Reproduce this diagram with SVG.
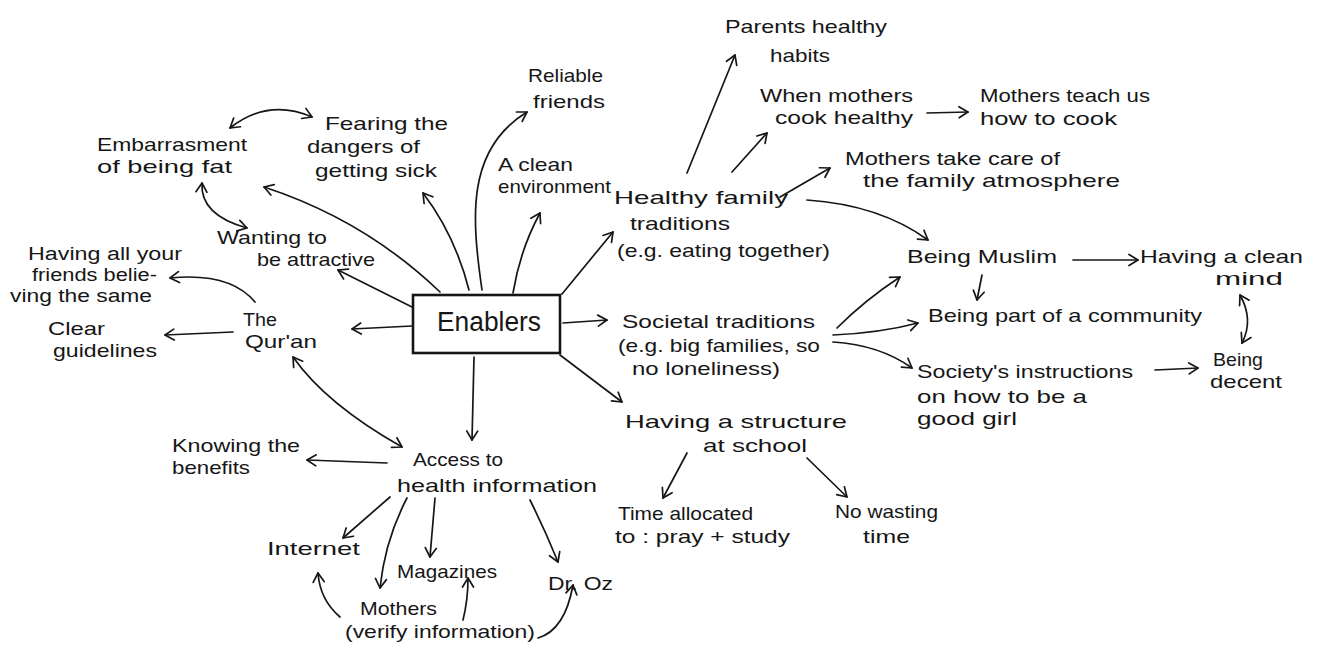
<svg xmlns="http://www.w3.org/2000/svg" width="1319" height="655" viewBox="0 0 1319 655">
<style>
text{font-family:"Liberation Sans",Arial,sans-serif;font-size:19px;fill:#161616;}
.big{font-size:27px;}
.sm{font-size:18px;}
.c path{fill:none;stroke:#161616;stroke-width:1.7;stroke-linecap:round;marker-end:url(#ah);}
.c path.both{marker-start:url(#ah);}
.box{fill:#fff;stroke:#161616;stroke-width:2.6;}
</style>
<defs>
<marker id="ah" markerUnits="userSpaceOnUse" markerWidth="14" markerHeight="14" refX="11" refY="7" orient="auto-start-reverse">
<path d="M2,1.5 L11,7 L2,12.5" fill="none" stroke="#161616" stroke-width="1.7" stroke-linecap="round" stroke-linejoin="round"/>
</marker>
</defs>
<rect width="1319" height="655" fill="#fff"/>
<g id="connectors" class="c">
<path d="M440,292 Q365,220 264,187"/>
<path d="M469,290 Q455,235 423,193"/>
<path d="M482,290 C472,220 465,150 527,112"/>
<path d="M513,293 Q520,250 540,213"/>
<path d="M562,294 L613,232"/>
<path d="M412,326 L352,329"/>
<path d="M412,307 L338,270"/>
<path d="M474,357 L472,440"/>
<path d="M560,355 L622,402"/>
<path d="M563,323 L607,320"/>
<path class="both" d="M293,357 Q326,404 402,447"/>
<path d="M255,302 Q230,272 170,278"/>
<path d="M233,332 L165,335"/>
<path class="both" d="M230,128 Q268,98 312,117"/>
<path class="both" d="M202,183 Q200,215 247,228"/>
<path d="M387,463 L307,460"/>
<path d="M390,497 L343,538"/>
<path d="M407,498 Q385,540 380,588"/>
<path d="M435,498 L430,557"/>
<path d="M530,500 Q545,530 558,562"/>
<path d="M340,617 Q320,600 318,573"/>
<path d="M463,620 Q468,600 468,578"/>
<path d="M538,638 Q565,630 573,585"/>
<path d="M687,173 L735,55"/>
<path d="M732,172 L767,133"/>
<path d="M927,113 L968,112"/>
<path d="M780,197 L830,168"/>
<path d="M807,200 Q880,205 928,240"/>
<path d="M837,328 Q865,300 900,277"/>
<path d="M833,335 Q880,333 918,323"/>
<path d="M833,342 Q880,345 912,368"/>
<path d="M1073,260 L1138,260"/>
<path d="M982,275 L977,300"/>
<path class="both" d="M1240,295 Q1254,320 1242,343"/>
<path d="M1155,370 L1198,368"/>
<path d="M687,453 L663,498"/>
<path d="M807,458 L847,497"/>
</g>
<g id="enablers"><rect class="box" x="413" y="295" width="147" height="58"/><text class="big" x="437" y="331" textLength="104" lengthAdjust="spacingAndGlyphs">Enablers</text></g>
<g id="reliable-friends"><text x="528" y="82" textLength="75" lengthAdjust="spacingAndGlyphs">Reliable</text><text x="533" y="108" textLength="72" lengthAdjust="spacingAndGlyphs">friends</text></g>
<g id="parents-habits"><text x="725" y="33" textLength="162" lengthAdjust="spacingAndGlyphs">Parents healthy</text><text x="770" y="62" textLength="60" lengthAdjust="spacingAndGlyphs">habits</text></g>
<g id="when-mothers"><text x="760" y="102" textLength="153" lengthAdjust="spacingAndGlyphs">When mothers</text><text x="775" y="124" textLength="138" lengthAdjust="spacingAndGlyphs">cook healthy</text></g>
<g id="mothers-teach"><text x="980" y="102" textLength="170" lengthAdjust="spacingAndGlyphs">Mothers teach us</text><text x="980" y="125" textLength="137" lengthAdjust="spacingAndGlyphs">how to cook</text></g>
<g id="mothers-care"><text x="845" y="165" textLength="215" lengthAdjust="spacingAndGlyphs">Mothers take care of</text><text x="863" y="187" textLength="257" lengthAdjust="spacingAndGlyphs">the family atmosphere</text></g>
<g id="healthy-family"><text x="614" y="204" textLength="174" lengthAdjust="spacingAndGlyphs">Healthy family</text><text x="630" y="230" textLength="100" lengthAdjust="spacingAndGlyphs">traditions</text><text x="617" y="257" textLength="213" lengthAdjust="spacingAndGlyphs">(e.g. eating together)</text></g>
<g id="clean-env"><text x="498" y="171" textLength="75" lengthAdjust="spacingAndGlyphs">A clean</text><text x="498" y="193" textLength="113" lengthAdjust="spacingAndGlyphs">environment</text></g>
<g id="fearing"><text x="325" y="130" textLength="123" lengthAdjust="spacingAndGlyphs">Fearing the</text><text x="307" y="153" textLength="113" lengthAdjust="spacingAndGlyphs">dangers of</text><text x="315" y="177" textLength="122" lengthAdjust="spacingAndGlyphs">getting sick</text></g>
<g id="embarrasment"><text x="97" y="151" textLength="150" lengthAdjust="spacingAndGlyphs">Embarrasment</text><text x="97" y="173" textLength="135" lengthAdjust="spacingAndGlyphs">of being fat</text></g>
<g id="wanting"><text x="217" y="244" textLength="110" lengthAdjust="spacingAndGlyphs">Wanting to</text><text x="257" y="266" textLength="118" lengthAdjust="spacingAndGlyphs">be attractive</text></g>
<g id="friends-same"><text class="sm" x="28" y="260" textLength="154" lengthAdjust="spacingAndGlyphs">Having all your</text><text class="sm" x="32" y="281" textLength="125" lengthAdjust="spacingAndGlyphs">friends belie-</text><text class="sm" x="10" y="302" textLength="142" lengthAdjust="spacingAndGlyphs">ving the same</text></g>
<g id="clear-guidelines"><text x="48" y="335" textLength="57" lengthAdjust="spacingAndGlyphs">Clear</text><text x="53" y="357" textLength="104" lengthAdjust="spacingAndGlyphs">guidelines</text></g>
<g id="quran"><text x="243" y="326" textLength="34" lengthAdjust="spacingAndGlyphs">The</text><text x="245" y="348" textLength="72" lengthAdjust="spacingAndGlyphs">Qur'an</text></g>
<g id="knowing"><text x="172" y="452" textLength="128" lengthAdjust="spacingAndGlyphs">Knowing the</text><text x="172" y="474" textLength="78" lengthAdjust="spacingAndGlyphs">benefits</text></g>
<g id="access"><text x="413" y="466" textLength="90" lengthAdjust="spacingAndGlyphs">Access to</text><text x="397" y="492" textLength="200" lengthAdjust="spacingAndGlyphs">health information</text></g>
<g id="internet"><text x="267" y="555" textLength="93" lengthAdjust="spacingAndGlyphs">Internet</text></g>
<g id="magazines"><text x="397" y="578" textLength="100" lengthAdjust="spacingAndGlyphs">Magazines</text></g>
<g id="dr-oz"><text x="548" y="590" textLength="65" lengthAdjust="spacingAndGlyphs">Dr. Oz</text></g>
<g id="mothers-verify"><text x="360" y="615" textLength="77" lengthAdjust="spacingAndGlyphs">Mothers</text><text x="345" y="638" textLength="190" lengthAdjust="spacingAndGlyphs">(verify information)</text></g>
<g id="societal"><text x="622" y="328" textLength="193" lengthAdjust="spacingAndGlyphs">Societal traditions</text><text x="618" y="352" textLength="202" lengthAdjust="spacingAndGlyphs">(e.g. big families, so</text><text x="632" y="375" textLength="148" lengthAdjust="spacingAndGlyphs">no loneliness)</text></g>
<g id="structure"><text x="625" y="428" textLength="222" lengthAdjust="spacingAndGlyphs">Having a structure</text><text x="703" y="452" textLength="104" lengthAdjust="spacingAndGlyphs">at school</text></g>
<g id="time-allocated"><text x="618" y="520" textLength="135" lengthAdjust="spacingAndGlyphs">Time allocated</text><text x="615" y="543" textLength="175" lengthAdjust="spacingAndGlyphs">to : pray + study</text></g>
<g id="no-wasting"><text x="835" y="518" textLength="103" lengthAdjust="spacingAndGlyphs">No wasting</text><text x="863" y="543" textLength="47" lengthAdjust="spacingAndGlyphs">time</text></g>
<g id="being-muslim"><text x="907" y="263" textLength="150" lengthAdjust="spacingAndGlyphs">Being Muslim</text></g>
<g id="clean-mind"><text x="1140" y="263" textLength="163" lengthAdjust="spacingAndGlyphs">Having a clean</text><text x="1215" y="285" textLength="68" lengthAdjust="spacingAndGlyphs">mind</text></g>
<g id="community"><text x="928" y="322" textLength="274" lengthAdjust="spacingAndGlyphs">Being part of a community</text></g>
<g id="instructions"><text x="917" y="378" textLength="216" lengthAdjust="spacingAndGlyphs">Society's instructions</text><text x="917" y="403" textLength="170" lengthAdjust="spacingAndGlyphs">on how to be a</text><text x="917" y="425" textLength="100" lengthAdjust="spacingAndGlyphs">good girl</text></g>
<g id="being-decent"><text x="1213" y="366" textLength="50" lengthAdjust="spacingAndGlyphs">Being</text><text x="1210" y="388" textLength="72" lengthAdjust="spacingAndGlyphs">decent</text></g>
</svg>
